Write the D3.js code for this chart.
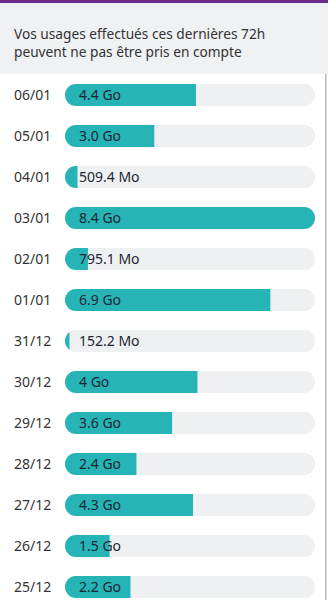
<!DOCTYPE html>
<html><head><meta charset="utf-8">
<script src="https://cdn.jsdelivr.net/npm/d3@7/dist/d3.min.js"></script>
<style>
html,body{margin:0;padding:0;background:#fff;overflow:hidden;}
svg{display:block;font-family:"Noto Sans","Open Sans",sans-serif;}
</style></head><body>
<script>
const dates = ["06/01","05/01","04/01","03/01","02/01","01/01","31/12","30/12","29/12","28/12","27/12","26/12","25/12"];
const valuesGo = [4.4, 3.0, 0.42, 8.4, 0.77, 6.9, 0.15, 4.45, 3.6, 2.4, 4.3, 1.5, 2.2];
const valueLabels = ["4.4 Go","3.0 Go","509.4 Mo","8.4 Go","795.1 Mo","6.9 Go","152.2 Mo","4 Go","3.6 Go","2.4 Go","4.3 Go","1.5 Go","2.2 Go"];
const headerLines = ["Vos usages effectués ces dernières 72h","peuvent ne pas être pris en compte"];

const W = 328, H = 600;
const svg = d3.select("body").append("svg").attr("width", W).attr("height", H);

// top purple band + header
svg.append("rect").attr("x",0).attr("y",0).attr("width",W).attr("height",74).attr("fill","#f0f1f3");
svg.append("rect").attr("x",0).attr("y",0).attr("width",W).attr("height",3).attr("fill","#6a2c8c");
svg.append("text").attr("x",14).attr("y",38.5).attr("font-size",13.7).attr("fill","#333")
  .selectAll("tspan").data(headerLines).join("tspan")
  .attr("x",14).attr("dy",(d,i)=>i?18.5:0).text(d=>d);

// right border line
svg.append("rect").attr("x",325).attr("y",74).attr("width",1.5).attr("height",H-74).attr("fill","#b8b8b8");

const x0 = 65, x1 = 315, barH = 22;
const x = d3.scaleLinear().domain([0, d3.max(valuesGo)]).range([x0, x1]);
const y = d3.scaleBand().domain(dates).range([74.5, 74.5 + 41*dates.length]).paddingInner(0).paddingOuter(0);

const defs = svg.append("defs");
const rows = svg.selectAll("g.row").data(dates).join("g").attr("class","row")
  .attr("transform", d => `translate(0,${y(d) + y.bandwidth()/2})`);

rows.each(function(d,i){
  defs.append("clipPath").attr("id","clip"+i)
    .append("rect").attr("x",x0).attr("y",-barH/2).attr("width",x1-x0).attr("height",barH).attr("rx",11);
});

rows.append("rect").attr("x",x0).attr("y",-barH/2).attr("width",x1-x0).attr("height",barH)
  .attr("rx",11).attr("fill","#eff0f2");
rows.append("rect").attr("clip-path",(d,i)=>`url(#clip${i})`)
  .attr("x",x0).attr("y",-barH/2).attr("width",(d,i)=>x(valuesGo[i])-x0).attr("height",barH)
  .attr("fill","#26b4b7");

rows.append("text").attr("x",14).attr("y",5.2).attr("font-size",14).attr("fill","#333").text(d=>d);
rows.append("text").attr("x",79).attr("y",5.2).attr("font-size",14).attr("fill","#1d2733")
  .text((d,i)=>valueLabels[i]);
</script>
</body></html>
